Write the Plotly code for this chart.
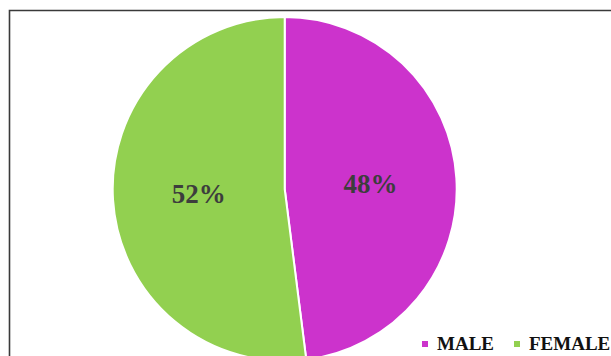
import plotly.graph_objects as go

# Gender split
labels = ["MALE", "FEMALE"]
shares = [48, 52]
colors = ["#CC33CC", "#92D050"]

SERIF = "Liberation Serif, Times New Roman, Times, serif"

W, H = 611, 380
TOP, BOTTOM = 17, 19
plot_h = H - TOP - BOTTOM          # 344 px -> pie radius 172
cx, R = 284.7, 172


def px_x(x):
    return x / W


def px_y(y):
    return (H - BOTTOM - y) / plot_h


fig = go.Figure(
    go.Pie(
        labels=labels,
        values=shares,
        sort=False,
        direction="clockwise",
        rotation=0,
        marker=dict(colors=colors, line=dict(color="white", width=2)),
        texttemplate="%{value}%",
        textposition="inside",
        insidetextorientation="horizontal",
        textfont=dict(family=SERIF, size=27, color="#3d3d3d", weight="bold"),
        hoverinfo="label+percent",
        showlegend=False,
        domain=dict(x=[px_x(cx - R), px_x(cx + R)], y=[0, 1]),
    )
)

# Outer frame
fig.add_shape(
    type="rect", xref="paper", yref="paper",
    x0=px_x(9.5), x1=1.2, y0=-0.3, y1=px_y(10.5),
    line=dict(color="#3a3a3a", width=1.6), fillcolor="rgba(0,0,0,0)", layer="below",
)

# Legend: small squares with bold labels
legend_x = [(422, 435), (514, 527)]
for (sq_x, txt_x), lab, col in zip(legend_x, labels, colors):
    fig.add_shape(
        type="rect", xref="paper", yref="paper",
        x0=px_x(sq_x), x1=px_x(sq_x + 6), y0=px_y(347), y1=px_y(341),
        line=dict(width=0), fillcolor=col,
    )
    fig.add_annotation(
        xref="paper", yref="paper", x=px_x(txt_x), y=px_y(343),
        xanchor="left", yanchor="middle", showarrow=False, text=lab,
        font=dict(family=SERIF, size=19, color="#111111", weight="bold"),
    )

fig.update_layout(
    width=W, height=H,
    margin=dict(l=0, r=0, t=TOP, b=BOTTOM),
    paper_bgcolor="white", plot_bgcolor="white",
)

fig.write_html(
    "out.html",
    post_script="document.body.style.overflow='hidden';document.documentElement.style.overflow='hidden';",
)
